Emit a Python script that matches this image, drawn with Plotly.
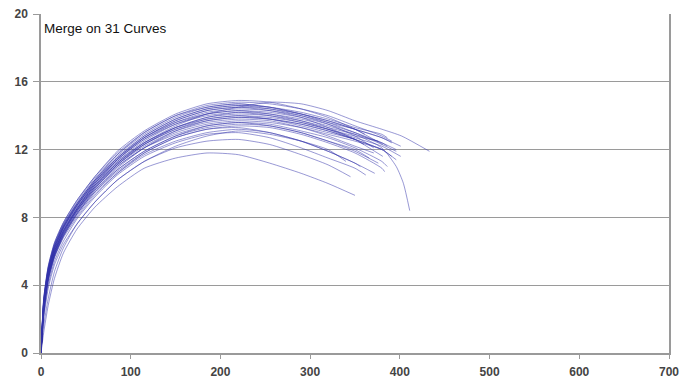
import plotly.graph_objects as go

X_GRID = [0, 3, 8, 15, 25, 40, 60, 85, 115, 150, 185, 220, 255, 290, 320, 350, 380]

CURVE_Y = [
    [0, 1.2, 2.8, 4.4, 5.9, 7.3, 8.6, 9.8, 10.9, 11.5, 11.8, 11.7, 11.2, 10.6, 10.0],
    [0, 2.0, 3.8, 5.2, 6.4, 7.6, 8.9, 10.2, 11.3, 12.1, 12.5, 12.6, 12.3, 11.7, 11.1],
    [0, 2.2, 4.0, 5.4, 6.6, 7.9, 9.2, 10.5, 11.6, 12.4, 12.9, 13.0, 12.7, 12.1, 11.5, 10.9],
    [0, 2.5, 4.4, 5.7, 6.9, 8.1, 9.4, 10.6, 11.7, 12.5, 13.0, 13.2, 13.0, 12.5, 11.9, 11.2],
    [0, 2.3, 4.2, 5.6, 6.8, 8.0, 9.3, 10.6, 11.8, 12.7, 13.2, 13.3, 13.0, 12.5, 11.9, 11.2],
    [0, 2.6, 4.5, 5.8, 7.0, 8.2, 9.5, 10.7, 11.8, 12.7, 13.2, 13.4, 13.3, 12.9, 12.4, 11.8, 10.9],
    [0, 2.4, 4.3, 5.7, 6.9, 8.2, 9.5, 10.8, 11.9, 12.8, 13.3, 13.5, 13.4, 13.0, 12.5, 11.9],
    [0, 2.7, 4.6, 6.0, 7.2, 8.4, 9.7, 11.0, 12.1, 12.9, 13.4, 13.6, 13.4, 13.0, 12.5, 12.0],
    [0, 2.5, 4.4, 5.8, 7.0, 8.3, 9.6, 10.8, 11.9, 12.8, 13.4, 13.6, 13.5, 13.1, 12.7, 12.1, 11.3],
    [0, 2.6, 4.5, 5.9, 7.1, 8.4, 9.7, 11.0, 12.1, 13.0, 13.5, 13.7, 13.6, 13.3, 12.9, 12.5, 12.0],
    [0, 2.8, 4.7, 6.1, 7.3, 8.5, 9.8, 11.1, 12.2, 13.1, 13.6, 13.8, 13.7, 13.3, 12.8, 12.2],
    [0, 2.4, 4.3, 5.7, 6.9, 8.2, 9.6, 10.9, 12.1, 13.1, 13.7, 13.9, 13.8, 13.5, 13.1, 12.6, 12.0],
    [0, 2.9, 4.8, 6.2, 7.4, 8.6, 9.9, 11.2, 12.3, 13.2, 13.7, 13.9, 13.8, 13.5, 13.1, 12.6],
    [0, 2.6, 4.5, 5.9, 7.1, 8.4, 9.8, 11.1, 12.3, 13.2, 13.8, 14.0, 13.9, 13.6, 13.2, 12.7, 12.2],
    [0, 3.0, 4.9, 6.3, 7.5, 8.7, 10.0, 11.3, 12.4, 13.3, 13.8, 14.0, 13.8, 13.4, 13.0, 12.6],
    [0, 2.7, 4.6, 6.0, 7.2, 8.5, 9.9, 11.2, 12.4, 13.3, 13.9, 14.1, 14.0, 13.7, 13.3, 12.9, 12.4],
    [0, 2.5, 4.4, 5.8, 7.0, 8.3, 9.7, 11.1, 12.3, 13.3, 13.9, 14.2, 14.1, 13.8, 13.4, 12.9, 12.1],
    [0, 2.9, 4.8, 6.2, 7.4, 8.7, 10.1, 11.4, 12.6, 13.5, 14.0, 14.2, 14.0, 13.6, 13.2, 12.8],
    [0, 2.6, 4.5, 5.9, 7.2, 8.5, 9.9, 11.3, 12.5, 13.5, 14.1, 14.3, 14.2, 13.9, 13.5, 13.0, 12.4],
    [0, 3.1, 5.0, 6.4, 7.6, 8.8, 10.2, 11.5, 12.7, 13.6, 14.1, 14.3, 14.1, 13.7, 13.2],
    [0, 2.8, 4.7, 6.1, 7.3, 8.6, 10.0, 11.4, 12.6, 13.6, 14.2, 14.4, 14.3, 14.0, 13.6, 13.2, 12.7],
    [0, 2.7, 4.6, 6.0, 7.2, 8.5, 10.0, 11.4, 12.7, 13.7, 14.3, 14.5, 14.3, 13.9, 13.3, 12.6],
    [0, 2.9, 4.8, 6.2, 7.4, 8.7, 10.1, 11.5, 12.7, 13.7, 14.3, 14.5, 14.4, 14.1, 13.7, 13.2, 12.7],
    [0, 3.0, 4.9, 6.3, 7.5, 8.8, 10.2, 11.6, 12.8, 13.8, 14.4, 14.6, 14.4, 14.0, 13.5, 12.8],
    [0, 2.8, 4.7, 6.1, 7.4, 8.7, 10.1, 11.5, 12.8, 13.8, 14.4, 14.6, 14.5, 14.2, 13.8, 13.3, 12.9],
    [0, 3.1, 5.0, 6.4, 7.6, 8.9, 10.3, 11.7, 12.9, 13.9, 14.5, 14.7, 14.5, 14.1, 13.6, 13.0, 12.3],
    [0, 3.2, 5.1, 6.5, 7.7, 9.0, 10.4, 11.8, 13.0, 14.0, 14.5, 14.7, 14.5, 14.1, 13.7, 13.2],
    [0, 2.6, 4.5, 5.9, 7.1, 8.4, 9.8, 11.2, 12.4, 13.4, 14.1, 14.5, 14.8, 14.7, 14.3, 13.7, 13.2],
    [0, 3.0, 4.9, 6.3, 7.5, 8.8, 10.2, 11.7, 13.0, 14.0, 14.6, 14.8, 14.7, 14.4, 14.0, 13.4, 12.8],
    [0, 3.2, 5.1, 6.5, 7.7, 9.0, 10.4, 11.9, 13.1, 14.1, 14.7, 14.9, 14.8, 14.4, 13.9, 13.2],
    [0, 1.6, 3.2, 4.8, 6.2, 7.6, 8.9, 10.2, 11.3, 12.2, 12.8, 13.1, 12.9, 12.5, 12.0],
]

TAIL_X = [
    [350], [345], [362], [372], [356], [383], [376], [366], [386], [391],
    [371], [396], [381], [401], [360], [386], [396, 404, 411], [376], [396], [350],
    [391], [381], [401], [371], [386], [396], [361], [402, 433], [391], [381],
    [340],
]
TAIL_Y = [
    [9.3], [10.4], [10.5], [10.6], [11.0], [10.7], [11.2], [11.5], [11.0], [11.6],
    [11.8], [11.4], [12.0], [11.6], [12.3], [12.2], [11.0, 10.0, 8.4], [12.5], [12.0], [12.6],
    [12.4], [11.6], [12.2], [12.1], [12.7], [11.9], [12.9], [12.8, 11.9], [12.5], [12.3],
    [11.3],
]

X_TICKS = [0, 100, 200, 300, 400, 500, 600, 700]
Y_TICKS = [0, 4, 8, 12, 16, 20]
TITLE = "Merge on 31 Curves"

fig = go.Figure()
for ys, tx, ty in zip(CURVE_Y, TAIL_X, TAIL_Y):
    xs = X_GRID[:len(ys)] + tx
    fig.add_trace(go.Scatter(
        x=xs, y=ys + ty, mode="lines",
        line=dict(color="rgba(50,50,170,0.5)", width=1, shape="spline", smoothing=0.6),
        showlegend=False, hoverinfo="skip",
    ))

axis_font = dict(family="Liberation Sans, Arial, sans-serif", size=12, color="#444444",
                 weight="bold")
fig.update_layout(
    width=680, height=379,
    margin=dict(l=41, r=11, t=14, b=26, autoexpand=False),
    paper_bgcolor="white", plot_bgcolor="white",
    xaxis=dict(range=[0, 700], tickvals=X_TICKS, showgrid=False, zeroline=False,
               showline=True, linecolor="#9a9a9a", linewidth=1.5,
               ticks="outside", ticklen=4, tickcolor="#9a9a9a",
               ticklabelstandoff=3, ticklabeloverflow="allow",
               tickfont=axis_font, automargin=False),
    yaxis=dict(range=[0, 20], tickvals=Y_TICKS, showgrid=True, gridcolor="#9a9a9a",
               gridwidth=1.2, zeroline=False, showline=True, linecolor="#9a9a9a",
               linewidth=1.5, mirror=True, ticks="outside", ticklen=6, tickcolor="#9a9a9a",
               ticklabelstandoff=3, tickfont=axis_font, automargin=False),
    annotations=[dict(text=TITLE, xref="paper", yref="paper", x=0.002, y=0.985,
                      xanchor="left", yanchor="top", showarrow=False,
                      font=dict(family="Liberation Sans, Arial, sans-serif", size=13.5,
                                color="#111111"))],
)
fig.write_html("out.html", config={"displayModeBar": False},
               post_script="document.body.style.margin='0';document.body.style.overflow='hidden';")
